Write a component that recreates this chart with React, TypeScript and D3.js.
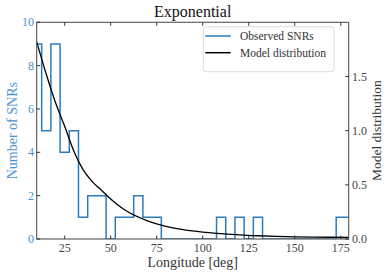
import * as d3 from "d3";
import { useEffect, useRef } from "react";

// histogram bins (deg) and counts
const binEdges = [
  7.5, 12.5, 17.5, 22.5, 27.5, 32.5, 37.5, 42.5, 47.5, 52.5, 57.5, 62.5, 67.5,
  72.5, 77.5, 82.5, 87.5, 92.5, 97.5, 102.5, 107.5, 112.5, 117.5, 122.5, 127.5,
  132.5, 137.5, 142.5, 147.5, 152.5, 157.5, 162.5, 167.5, 172.5, 177.5, 182.5,
];
const counts = [
  9, 5, 9, 4, 5, 1, 2, 2, 0, 1, 1, 2, 1, 1, 0, 0, 0, 0, 0, 0, 1, 0, 1, 0, 1, 0,
  0, 0, 0, 0, 0, 0, 0, 1, 1,
];

// model curve
const modelX = [
  9.8, 15, 20, 25, 30, 35, 40, 45, 50, 55, 60, 70, 80, 90, 100, 110, 120, 130,
  140, 150, 160, 170, 179.3,
];
const modelY = [
  1.82, 1.52, 1.26, 1.04, 0.81, 0.64, 0.53, 0.45, 0.37, 0.3, 0.244, 0.168,
  0.116, 0.084, 0.064, 0.05, 0.038, 0.03, 0.024, 0.02, 0.018, 0.016, 0.014,
];

const xTicks = [25, 50, 75, 100, 125, 150, 175];
const leftTicks = [0, 2, 4, 6, 8, 10];
const rightTicks = [0, 0.5, 1.0, 1.5];

const App = () => {
  const svgRef = useRef<SVGSVGElement>(null);

  useEffect(() => {
    const svg = d3.select(svgRef.current);
    svg.selectAll("*").remove();

    const width = 390;
    const height = 278;
    const left = 36.7;
    const right = 348.7;
    const top = 22.3;
    const bottom = 239;
    const font = "Liberation Serif, Times New Roman, DejaVu Serif, serif";
    const blue = "#2b7bba";
    const blueText = "#4a94cf";
    const spine = "#555";

    svg.attr("width", width).attr("height", height);

    const x = d3.scaleLinear().domain([9.8, 179.3]).range([left, right]);
    const yL = d3.scaleLinear().domain([0, 10]).range([bottom, top]);
    const yR = d3.scaleLinear().domain([0, 2]).range([bottom, top]);

    svg
      .append("defs")
      .append("clipPath")
      .attr("id", "plot")
      .append("rect")
      .attr("x", left)
      .attr("y", top)
      .attr("width", right - left)
      .attr("height", bottom - top);

    // step histogram
    const pts: [number, number][] = [[binEdges[0], 0]];
    counts.forEach((c, i) => {
      pts.push([binEdges[i], c]);
      pts.push([binEdges[i + 1], c]);
    });
    pts.push([binEdges[binEdges.length - 1], 0]);
    const histLine = d3
      .line<[number, number]>()
      .x((d) => x(d[0]))
      .y((d) => yL(d[1]));
    svg
      .append("path")
      .attr("clip-path", "url(#plot)")
      .attr("d", histLine(pts))
      .attr("fill", "none")
      .attr("stroke", blue)
      .attr("stroke-width", 1.5);

    // model curve
    const modelLine = d3
      .line<number>()
      .x((_, i) => x(modelX[i]))
      .y((d) => yR(d))
      .curve(d3.curveMonotoneX);
    svg
      .append("path")
      .attr("clip-path", "url(#plot)")
      .attr("d", modelLine(modelY))
      .attr("fill", "none")
      .attr("stroke", "#000")
      .attr("stroke-width", 1.3);

    // spines
    svg
      .append("rect")
      .attr("x", left)
      .attr("y", top)
      .attr("width", right - left)
      .attr("height", bottom - top)
      .attr("fill", "none")
      .attr("stroke", spine)
      .attr("stroke-width", 1.1);

    const tl = 3.5;
    // x ticks (bottom and top, inward)
    xTicks.forEach((t) => {
      const px = x(t);
      svg.append("line").attr("x1", px).attr("x2", px).attr("y1", bottom).attr("y2", bottom - tl).attr("stroke", "#222").attr("stroke-width", 0.9);
      svg.append("line").attr("x1", px).attr("x2", px).attr("y1", top).attr("y2", top + tl).attr("stroke", "#222").attr("stroke-width", 0.9);
      svg
        .append("text")
        .attr("x", px)
        .attr("y", 252)
        .attr("text-anchor", "middle")
        .attr("font-family", font)
        .attr("font-size", 12)
        .attr("fill", "#444")
        .text(t);
    });

    leftTicks.forEach((t) => {
      const py = yL(t);
      svg.append("line").attr("x1", left).attr("x2", left + tl).attr("y1", py).attr("y2", py).attr("stroke", "#222").attr("stroke-width", 0.9);
      svg
        .append("text")
        .attr("x", 34)
        .attr("y", py)
        .attr("dy", "0.34em")
        .attr("text-anchor", "end")
        .attr("font-family", font)
        .attr("font-size", 12)
        .attr("fill", blueText)
        .text(t);
    });

    rightTicks.forEach((t) => {
      const py = yR(t);
      svg.append("line").attr("x1", right).attr("x2", right - tl).attr("y1", py).attr("y2", py).attr("stroke", "#222").attr("stroke-width", 0.9);
      svg
        .append("text")
        .attr("x", 352)
        .attr("y", py)
        .attr("dy", "0.34em")
        .attr("font-family", font)
        .attr("font-size", 12)
        .attr("fill", "#444")
        .text(t.toFixed(1));
    });

    // title and labels
    svg
      .append("text")
      .attr("x", (left + right) / 2)
      .attr("y", 17)
      .attr("text-anchor", "middle")
      .attr("font-family", font)
      .attr("font-size", 16)
      .attr("fill", "#111")
      .text("Exponential");

    svg
      .append("text")
      .attr("x", (left + right) / 2)
      .attr("y", 267)
      .attr("text-anchor", "middle")
      .attr("font-family", font)
      .attr("font-size", 14)
      .attr("fill", "#333")
      .text("Longitude [deg]");

    svg
      .append("text")
      .attr("transform", `translate(16.5,${(top + bottom) / 2}) rotate(-90)`)
      .attr("text-anchor", "middle")
      .attr("font-family", font)
      .attr("font-size", 14)
      .attr("fill", blueText)
      .text("Number of SNRs");

    svg
      .append("text")
      .attr("transform", `translate(381,${(top + bottom) / 2}) rotate(-90)`)
      .attr("text-anchor", "middle")
      .attr("font-family", font)
      .attr("font-size", 13.5)
      .attr("fill", "#333")
      .text("Model distribution");

    // legend
    const lg = svg.append("g").attr("transform", "translate(203.3,26.7)");
    lg.append("rect")
      .attr("width", 130.7)
      .attr("height", 45)
      .attr("rx", 3)
      .attr("fill", "#fff")
      .attr("fill-opacity", 0.8)
      .attr("stroke", "#d8d8d8")
      .attr("stroke-width", 0.9);
    const entries = [
      { label: "Observed SNRs", color: blue },
      { label: "Model distribution", color: "#000" },
    ];
    entries.forEach((e, i) => {
      const cy = 9.3 + i * 16.7;
      lg.append("line")
        .attr("x1", 2)
        .attr("x2", 27.4)
        .attr("y1", cy)
        .attr("y2", cy)
        .attr("stroke", e.color)
        .attr("stroke-width", 1.5);
      lg.append("text")
        .attr("x", 36.7)
        .attr("y", cy)
        .attr("dy", "0.34em")
        .attr("font-family", font)
        .attr("font-size", 11.5)
        .attr("fill", "#333")
        .text(e.label);
    });
  }, []);

  return (
    <svg
      ref={svgRef}
      style={{ position: "absolute", left: 0, top: 0, display: "block" }}
    ></svg>
  );
};

export default App;
